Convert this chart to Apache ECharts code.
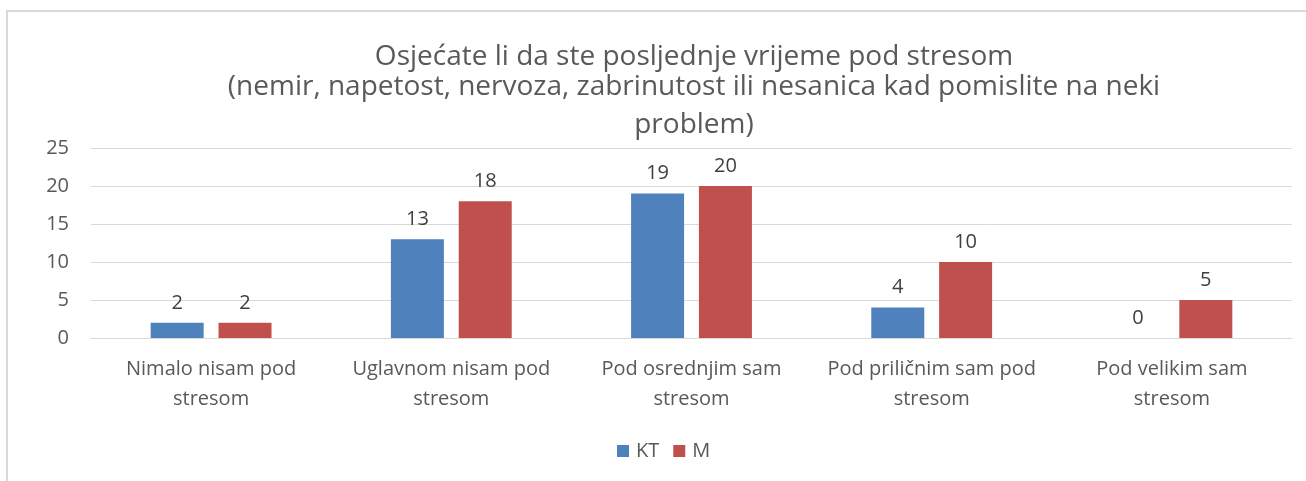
<!DOCTYPE html>
<html>
<head>
<meta charset="utf-8">
<script src="https://cdn.jsdelivr.net/npm/echarts@6/dist/echarts.min.js"></script>
<style>
  html, body { margin: 0; padding: 0; background: #fff; }
  #chart { width: 1306px; height: 481px; }
</style>
</head>
<body>
<div id="chart"></div>
<script>
// data
const categories = [
  'Nimalo nisam pod\nstresom',
  'Uglavnom nisam pod\nstresom',
  'Pod osrednjim sam\nstresom',
  'Pod priličnim sam pod\nstresom',
  'Pod velikim sam\nstresom'
]
const ktValues = [2, 13, 19, 4, 0]
const mValues = [2, 18, 20, 10, 5]
const yTicks = [0, 5, 10, 15, 20, 25]

const FONT = 'Open Sans'
const TEXT = '#595959'

const labelStyle = {
  show: true,
  position: 'top',
  distance: 10,
  color: '#404040',
  fontFamily: FONT,
  fontSize: 20
}

const chart = echarts.init(document.getElementById('chart'), null, {renderer: 'canvas'})
chart.setOption({
  backgroundColor: '#fff',
  animation: false,
  title: {
    text: 'Osjećate li da ste posljednje vrijeme pod stresom',
    subtext: '(nemir, napetost, nervoza, zabrinutost ili nesanica kad pomislite na neki\nproblem)',
    left: 694,
    top: 43,
    padding: 0,
    textAlign: 'center',
    textVerticalAlign: 'top',
    itemGap: -3,
    textStyle: {color: TEXT, fontFamily: FONT, fontSize: 28, lineHeight: 28, fontWeight: 'normal'},
    subtextStyle: {color: TEXT, fontFamily: FONT, fontSize: 28, lineHeight: 38}
  },
  legend: {
    left: 612,
    bottom: 15,
    itemWidth: 12,
    itemHeight: 12,
    itemGap: 14,
    icon: 'rect',
    textStyle: {color: TEXT, fontFamily: FONT, fontSize: 20, padding: [0, 0, 0, 2]}
  },
  grid: {left: 91, right: 14, top: 148, bottom: 143},
  xAxis: {
    type: 'category',
    data: categories,
    axisLine: {lineStyle: {color: '#d9d9d9', width: 1}},
    axisTick: {show: false},
    axisLabel: {color: TEXT, fontFamily: FONT, fontSize: 20, lineHeight: 30, margin: 16, interval: 0}
  },
  yAxis: {
    type: 'value',
    min: yTicks[0],
    max: yTicks[yTicks.length - 1],
    interval: 5,
    axisLine: {show: false},
    axisTick: {show: false},
    splitLine: {lineStyle: {color: '#d9d9d9', width: 1}},
    axisLabel: {color: TEXT, fontFamily: FONT, fontSize: 20, margin: 22}
  },
  series: [
    {
      name: 'KT',
      type: 'bar',
      data: ktValues,
      barWidth: 53,
      barGap: '28%',
      itemStyle: {color: '#4f81bd'},
      label: labelStyle
    },
    {
      name: 'M',
      type: 'bar',
      data: mValues,
      barWidth: 53,
      itemStyle: {color: '#c0504d'},
      label: labelStyle
    }
  ],
  graphic: [{
    type: 'rect',
    shape: {x: 7, y: 11, width: 1320, height: 500},
    style: {fill: 'none', stroke: '#d9d9d9', lineWidth: 2},
    silent: true
  }]
})
</script>
</body>
</html>
